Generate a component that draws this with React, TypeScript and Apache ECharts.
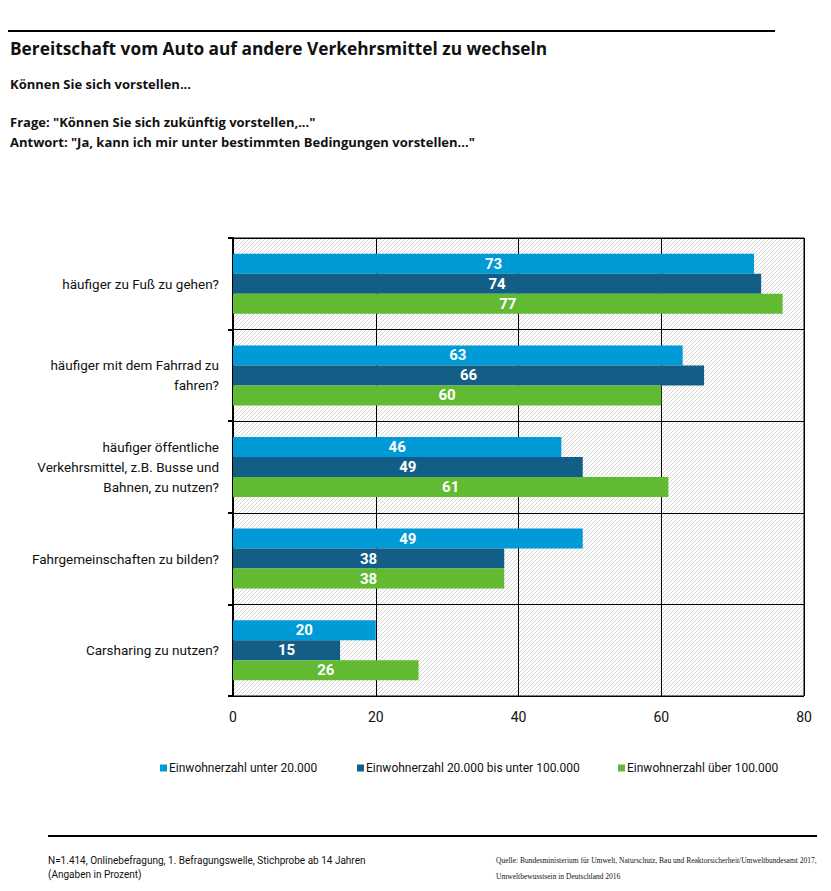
import React, { useEffect, useRef } from "react";
import * as echarts from "echarts";

const categories = [
  "häufiger zu Fuß zu gehen?",
  "häufiger mit dem Fahrrad zu\nfahren?",
  "häufiger öffentliche\nVerkehrsmittel, z.B. Busse und\nBahnen, zu nutzen?",
  "Fahrgemeinschaften zu bilden?",
  "Carsharing zu nutzen?",
];
const seriesNames = [
  "Einwohnerzahl unter 20.000",
  "Einwohnerzahl 20.000 bis unter 100.000",
  "Einwohnerzahl über 100.000",
];
const under20k = [73, 63, 46, 49, 20];
const from20kTo100k = [74, 66, 49, 38, 15];
const over100k = [77, 60, 61, 38, 26];
const xTicks = { min: 0, max: 80, interval: 20 };

const colors = ["#009ad6", "#125e87", "#62b932"];
const FONT = "Roboto";
const HEAD_FONT = "Open Sans";

function makePattern(): string {
  const s = 4;
  const c = document.createElement("canvas");
  c.width = s;
  c.height = s;
  const ctx = c.getContext("2d")!;
  ctx.fillStyle = "#ffffff";
  ctx.fillRect(0, 0, s, s);
  ctx.strokeStyle = "#d4d4d4";
  ctx.lineWidth = 1;
  ctx.beginPath();
  ctx.moveTo(-1, s + 1);
  ctx.lineTo(s + 1, -1);
  ctx.moveTo(-1, 1);
  ctx.lineTo(1, -1);
  ctx.moveTo(s - 1, s + 1);
  ctx.lineTo(s + 1, s - 1);
  ctx.stroke();
  return c.toDataURL();
}

export default function App() {
  const ref = useRef<HTMLDivElement>(null);
  useEffect(() => {
    document.body.style.margin = "0";
    const chart = echarts.init(ref.current!, null, { renderer: "svg" });
    const values = [under20k, from20kTo100k, over100k];
    const textStyle = (size: number, weight: string | number = "normal", extra: any = {}) => ({
      fontFamily: HEAD_FONT,
      fontSize: size,
      fontWeight: weight,
      fill: "#111",
      ...extra,
    });
    chart.setOption({
      animation: false,
      backgroundColor: "#ffffff",
      grid: {
        left: 233,
        top: 238,
        right: 27,
        bottom: 195,
        show: true,
        borderColor: "#000",
        borderWidth: 1,
        backgroundColor: { image: makePattern(), repeat: "repeat" } as any,
      },
      legend: seriesNames.map((n, i) => ({
        data: [n],
        left: [160, 357, 618][i],
        top: 762,
        padding: 0,
        icon: "rect",
        itemWidth: 7,
        itemHeight: 7,
        itemGap: 4,
        textStyle: { fontFamily: FONT, fontSize: 12, color: "#111", padding: [0, 0, 0, -3] },
      })),
      xAxis: {
        type: "value",
        ...xTicks,
        axisLine: { show: false },
        axisTick: { show: false },
        splitLine: { show: true, lineStyle: { color: "#000", width: 1 } },
        axisLabel: { fontFamily: FONT, fontSize: 14, color: "#111", margin: 14 },
      },
      yAxis: {
        type: "category",
        inverse: true,
        data: categories,
        axisLine: { show: true, lineStyle: { color: "#000", width: 2 } },
        axisTick: { show: true, length: 5, lineStyle: { color: "#000", width: 2 } },
        splitLine: { show: true, lineStyle: { color: "#000", width: 1 } },
        axisLabel: {
          fontFamily: FONT,
          fontSize: 13.5,
          color: "#111",
          margin: 14,
          align: "right",
          lineHeight: 20,
        },
      },
      series: seriesNames.map((n, i) => ({
        name: n,
        type: "bar",
        data: values[i],
        barWidth: 20,
        barGap: "0%",
        itemStyle: { color: colors[i] },
        label: {
          show: true,
          position: "inside",
          color: "#fff",
          fontFamily: FONT,
          fontWeight: "bold",
          fontSize: 15,
        },
      })),
      graphic: [
        { type: "rect", shape: { x: 8, y: 30, width: 767, height: 2 }, style: { fill: "#000" } },
        {
          type: "text",
          left: 10,
          top: 40,
          style: textStyle(17.3, "bold", { text: "Bereitschaft vom Auto auf andere Verkehrsmittel zu wechseln" }),
        },
        {
          type: "text",
          left: 10,
          top: 77,
          style: textStyle(13, "bold", { text: "Können Sie sich vorstellen..." }),
        },
        {
          type: "text",
          left: 10,
          top: 115,
          style: textStyle(13, "bold", { text: "Frage: \"Können Sie sich zukünftig vorstellen,...\"" }),
        },
        {
          type: "text",
          left: 10,
          top: 135,
          style: textStyle(13, "bold", { text: "Antwort: \"Ja, kann ich mir unter bestimmten Bedingungen vorstellen...\"" }),
        },
        { type: "rect", shape: { x: 48, y: 835, width: 769, height: 2 }, style: { fill: "#000" } },
        {
          type: "text",
          left: 48,
          top: 853,
          style: {
            text: "N=1.414, Onlinebefragung, 1. Befragungswelle, Stichprobe ab 14 Jahren\n(Angaben in Prozent)",
            fontFamily: FONT,
            fontSize: 10,
            lineHeight: 14,
            fill: "#111",
          },
        },
        {
          type: "text",
          left: 496,
          top: 852,
          style: {
            text: "Quelle: Bundesministerium für Umwelt, Naturschutz, Bau und Reaktorsicherheit/Umweltbundesamt 2017,\nUmweltbewusstsein in Deutschland 2016",
            fontFamily: "Liberation Serif",
            fontSize: 7.5,
            lineHeight: 16,
            fill: "#111",
          },
        },
      ],
    });
    return () => chart.dispose();
  }, []);
  return <div ref={ref} style={{ width: 831, height: 891 }} />;
}
